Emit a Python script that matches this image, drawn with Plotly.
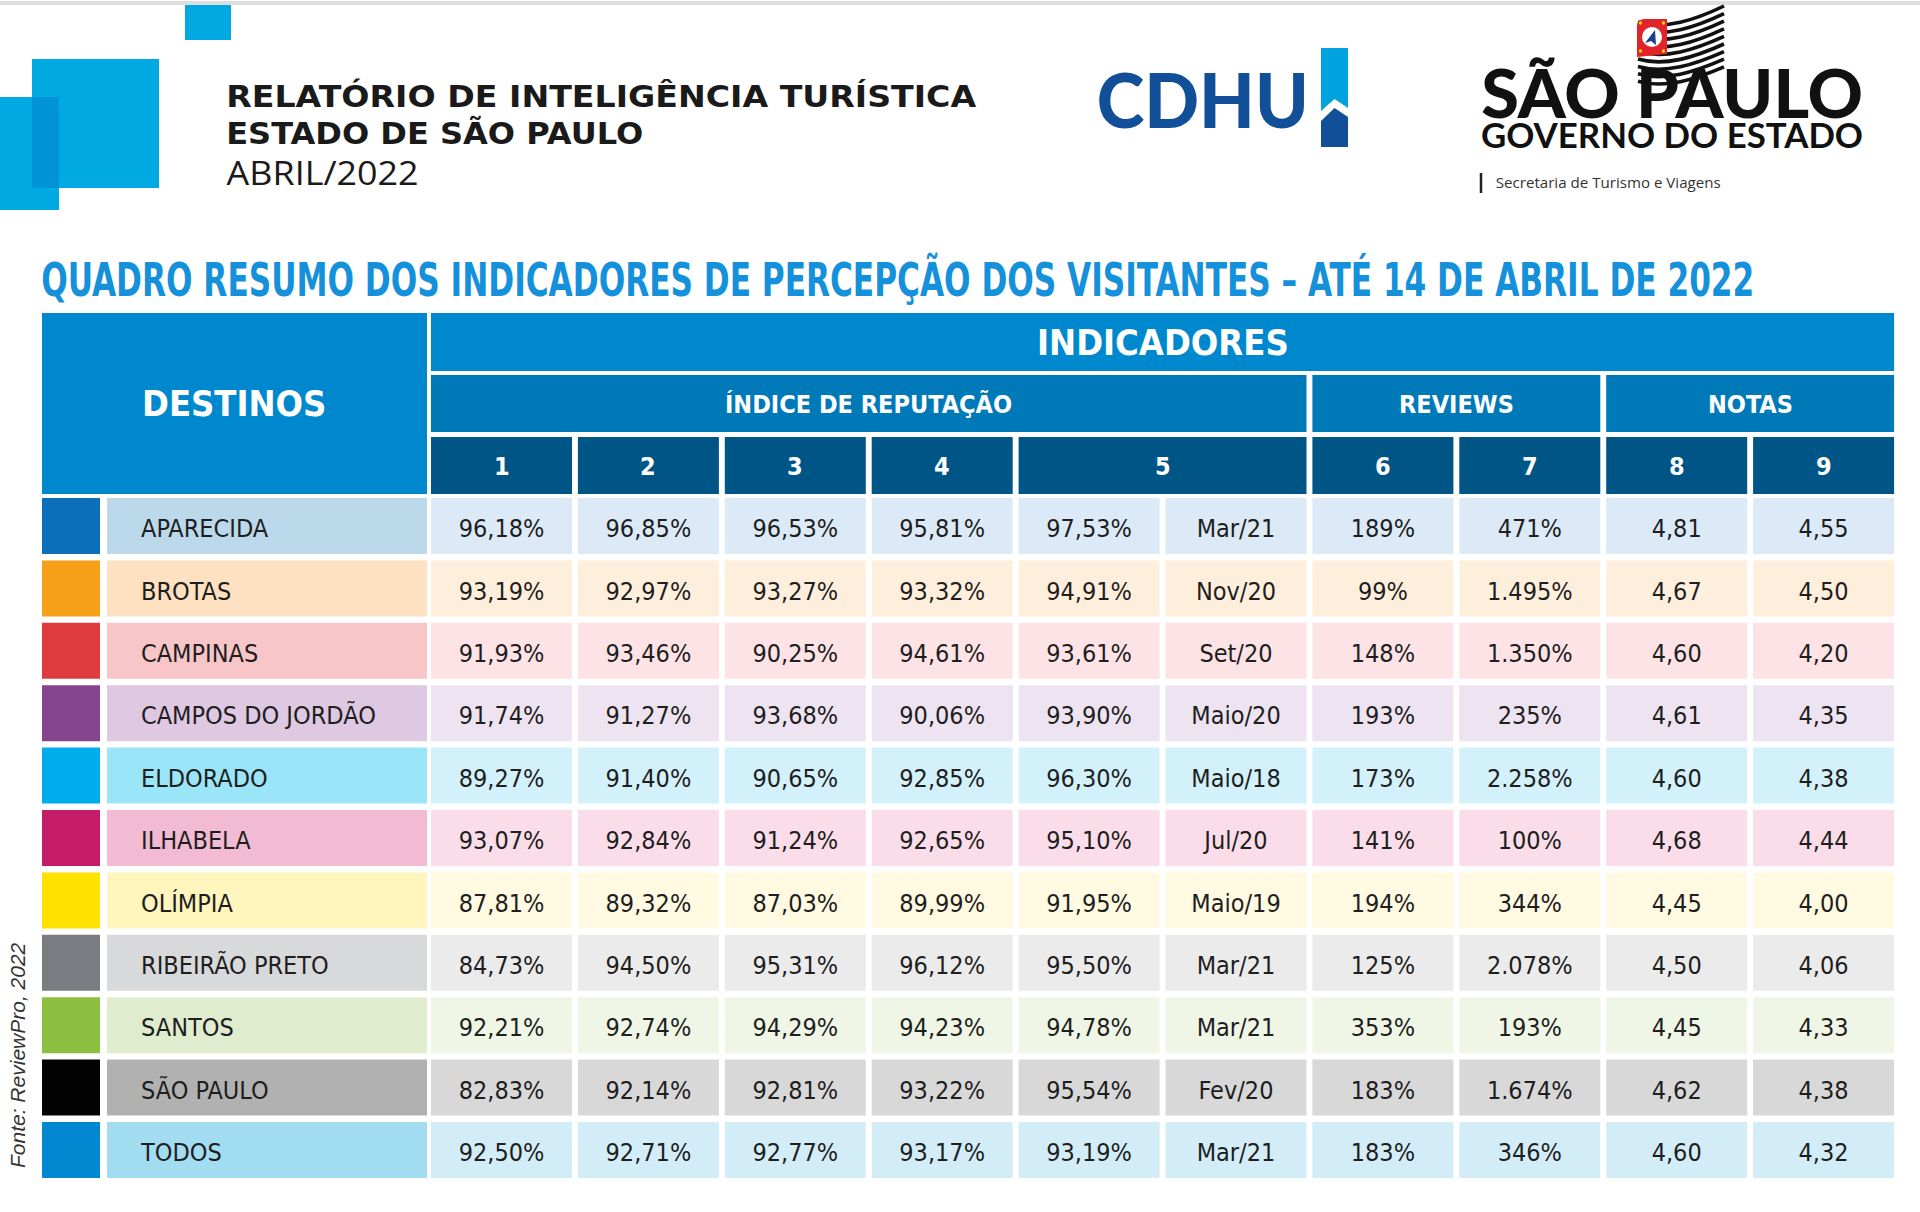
import json
import plotly.graph_objects as go

# ---- dados do quadro ----
destinos = ["APARECIDA", "BROTAS", "CAMPINAS", "CAMPOS DO JORDÃO", "ELDORADO", "ILHABELA",
            "OLÍMPIA", "RIBEIRÃO PRETO", "SANTOS", "SÃO PAULO", "TODOS"]
ind1 = [96.18, 93.19, 91.93, 91.74, 89.27, 93.07, 87.81, 84.73, 92.21, 82.83, 92.50]
ind2 = [96.85, 92.97, 93.46, 91.27, 91.40, 92.84, 89.32, 94.50, 92.74, 92.14, 92.71]
ind3 = [96.53, 93.27, 90.25, 93.68, 90.65, 91.24, 87.03, 95.31, 94.29, 92.81, 92.77]
ind4 = [95.81, 93.32, 94.61, 90.06, 92.85, 92.65, 89.99, 96.12, 94.23, 93.22, 93.17]
ind5 = [97.53, 94.91, 93.61, 93.90, 96.30, 95.10, 91.95, 95.50, 94.78, 95.54, 93.19]
ind5_mes = ["Mar/21", "Nov/20", "Set/20", "Maio/20", "Maio/18", "Jul/20", "Maio/19",
            "Mar/21", "Mar/21", "Fev/20", "Mar/21"]
reviews6 = [189, 99, 148, 193, 173, 141, 194, 125, 353, 183, 183]
reviews7 = [471, 1495, 1350, 235, 2258, 100, 344, 2078, 193, 1674, 346]
notas8 = [4.81, 4.67, 4.60, 4.61, 4.60, 4.68, 4.45, 4.50, 4.45, 4.62, 4.60]
notas9 = [4.55, 4.50, 4.20, 4.35, 4.38, 4.44, 4.00, 4.06, 4.33, 4.38, 4.32]
num_colunas = ["1", "2", "3", "4", "5", "6", "7", "8", "9"]

# ---- cores por linha ----
cor_marca = ["#0b70b9", "#f6a01a", "#de3b3f", "#86468f", "#00adec", "#c41c66",
             "#ffe200", "#797c80", "#8dc041", "#020202", "#0288d1"]
cor_nome = ["#bcd8eb", "#fde1c0", "#f8c5c8", "#dfc8e2", "#9ae6f8", "#f3bad3",
            "#fff5bd", "#d8d9da", "#e0ecce", "#b2b1b1", "#a2dcf1"]
cor_dado = ["#dbeaf6", "#feefdc", "#fde3e5", "#eee3f0", "#d2f1fa", "#fadde8",
            "#fffae1", "#ebebeb", "#eff6e6", "#d8d8d8", "#d2edf8"]

TITULO = "QUADRO RESUMO DOS INDICADORES DE PERCEPÇÃO DOS VISITANTES – ATÉ 14 DE ABRIL DE 2022"


def pct(v):
    return f"{v:.2f}".replace(".", ",") + "%"


def milhar(v):
    return f"{v:,}".replace(",", ".") + "%"


def nota(v):
    return f"{v:.2f}".replace(".", ",")


NARROW = "DejaVu Sans Condensed, Liberation Sans Narrow, sans-serif"
OPEN = "Open Sans, DejaVu Sans, sans-serif"
LATO = "Lato, Inter, Open Sans, sans-serif"

# geometria (pixels da janela)
COL_X0 = 431
COL_PITCH = 146.9
COL_W = 141
ROW_Y0 = 498
ROW_PITCH = 62.4
ROW_H = 56


def col_x(k):
    return COL_X0 + COL_PITCH * k


shapes = []


def rect(x0, y0, x1, y1, color):
    shapes.append(dict(type="rect", xref="x", yref="y", x0=x0, y0=y0, x1=x1, y1=y1,
                       fillcolor=color, line=dict(width=0), layer="below"))


# topo: linha cinza e quadrados azuis
shapes.append(dict(type="line", xref="x", yref="y", x0=0, x1=1920, y0=3, y1=3,
                   line=dict(color="#dedede", width=4)))
rect(185, 5, 231, 40, "#00a9e2")
rect(32, 59, 159, 188, "#00a9e2")
rect(0, 97, 59, 210, "#00a9e2")
rect(32, 97, 59, 188, "#0093d6")

# logo CDHU (ícone)
shapes.append(dict(type="path", xref="x", yref="y",
                   path="M 1321 48 L 1348 48 L 1348 108 L 1334.5 99 L 1321 111 Z",
                   fillcolor="#00a3e0", line=dict(width=0)))
shapes.append(dict(type="path", xref="x", yref="y",
                   path="M 1321 121 L 1334.5 108 L 1348 117 L 1348 147 L 1321 147 Z",
                   fillcolor="#124f99", line=dict(width=0)))

# bandeira de SP (listras)
for j in range(9):
    yl = 22 + 7.4 * j
    yr = 6 + 7.6 * j
    shapes.append(dict(type="path", xref="x", yref="y",
                       path=f"M 1638 {yl} C 1665 {yl + 8}, 1695 {yl - 2}, 1724 {yr}",
                       line=dict(color="#111111", width=3.6)))
shapes.append(dict(type="path", xref="x", yref="y",
                   path="M 1645 19 L 1667 19 L 1667 54 L 1637 57 L 1637 27 Q 1637 19 1645 19 Z",
                   fillcolor="#e3232b", line=dict(width=0)))
shapes.append(dict(type="circle", xref="x", yref="y", x0=1642, x1=1662, y0=27, y1=47,
                   fillcolor="#ffffff", line=dict(width=0)))
shapes.append(dict(type="path", xref="x", yref="y",
                   path="M 1655 30 L 1645 43 L 1651 41 L 1656 45 Z",
                   fillcolor="#1c3f94", line=dict(width=0)))
for cx, cy in [(1640.5, 23), (1663.5, 23), (1640.5, 51), (1663.5, 51)]:
    shapes.append(dict(type="circle", xref="x", yref="y", x0=cx - 1.7, x1=cx + 1.7,
                       y0=cy - 1.7, y1=cy + 1.7, fillcolor="#ffd200", line=dict(width=0)))
shapes.append(dict(type="line", xref="x", yref="y", x0=1481, x1=1481, y0=173, y1=193,
                   line=dict(color="#222222", width=2.5)))

# cabeçalho do quadro
H1 = (313, 371)
H2 = (375, 432)
H3 = (437, 494)
AZUL1, AZUL2, AZUL3 = "#0088cf", "#0079b9", "#005587"
rect(42, H1[0], 427, H3[1], AZUL1)
rect(COL_X0, H1[0], col_x(9) + COL_W, H1[1], AZUL1)
grupos = [("ÍNDICE DE REPUTAÇÃO", 0, 5), ("REVIEWS", 6, 7), ("NOTAS", 8, 9)]
for _, a, b in grupos:
    rect(col_x(a), H2[0], col_x(b) + COL_W, H2[1], AZUL2)
spans_num = [(0, 0), (1, 1), (2, 2), (3, 3), (4, 5), (6, 6), (7, 7), (8, 8), (9, 9)]
for a, b in spans_num:
    rect(col_x(a), H3[0], col_x(b) + COL_W, H3[1], AZUL3)

# corpo do quadro
for i in range(len(destinos)):
    y0 = ROW_Y0 + ROW_PITCH * i
    y1 = y0 + ROW_H
    rect(42, y0, 100, y1, cor_marca[i])
    rect(107, y0, 427, y1, cor_nome[i])
    for k in range(10):
        rect(col_x(k), y0, col_x(k) + COL_W, y1, cor_dado[i])

fig = go.Figure()

row_y = [ROW_Y0 + ROW_PITCH * i + ROW_H / 2 + 5 for i in range(len(destinos))]
fig.add_trace(go.Scatter(x=[141] * len(destinos), y=row_y, text=destinos, mode="text",
                         textposition="middle right", cliponaxis=False, hoverinfo="skip",
                         textfont=dict(family=NARROW, size=25, color="#1e1e1e")))

colunas = [
    [pct(v) for v in ind1],
    [pct(v) for v in ind2],
    [pct(v) for v in ind3],
    [pct(v) for v in ind4],
    [pct(v) for v in ind5],
    ind5_mes,
    [milhar(v) for v in reviews6],
    [milhar(v) for v in reviews7],
    [nota(v) for v in notas8],
    [nota(v) for v in notas9],
]
for k, textos in enumerate(colunas):
    fig.add_trace(go.Scatter(x=[col_x(k) + COL_W / 2] * len(textos), y=row_y, text=textos,
                             mode="text", textposition="middle center", cliponaxis=False,
                             hoverinfo="skip",
                             textfont=dict(family=NARROW, size=25, color="#1e1e1e")))

annotations = []


def txt(x, y, s, size, color="#ffffff", family=NARROW, weight="bold", **kw):
    annotations.append(dict(x=x, y=y, xref="x", yref="y", text=s, showarrow=False,
                            xanchor="center", yanchor="middle",
                            font=dict(family=family, size=size, color=color,
                                      weight=weight, **kw)))


txt(234, 403, "DESTINOS", 36)
txt((COL_X0 + col_x(9) + COL_W) / 2, 342, "INDICADORES", 36)
for nome, a, b in grupos:
    txt((col_x(a) + col_x(b) + COL_W) / 2, 404, nome, 25)
for (a, b), n in zip(spans_num, num_colunas):
    txt((col_x(a) + col_x(b) + COL_W) / 2, 466, n, 25)

# textos do topo: (texto, largura no original)
larguras = {
    "RELATÓRIO DE INTELIGÊNCIA TURÍSTICA": 750,
    "ESTADO DE SÃO PAULO": 417,
    "ABRIL/2022": 192,
    "CDHU": 212,
    "SÃO PAULO": 382,
    "GOVERNO DO ESTADO": 382,
    "Secretaria de Turismo e Viagens": 225,
    TITULO: 1713,
}
txt(601, 96, "RELATÓRIO DE INTELIGÊNCIA TURÍSTICA", 31, "#1a1a1a", "DejaVu Sans")
txt(434.5, 133, "ESTADO DE SÃO PAULO", 31, "#1a1a1a", "DejaVu Sans")
txt(322, 172, "ABRIL/2022", 32, "#1a1a1a", OPEN, "normal")
txt(1202, 98, "CDHU", 76, "#124f99", LATO, 900)
txt(1672, 92, "SÃO PAULO", 66, "#111111", LATO, 900)
txt(1672, 134, "GOVERNO DO ESTADO", 35, "#111111", LATO, 700)
txt(1608, 182, "Secretaria de Turismo e Viagens", 14, "#333333", OPEN, "normal")
txt(897.5, 279, TITULO, 46, "#1590da", NARROW)
annotations.append(dict(x=17, y=1055, xref="x", yref="y", text="Fonte: ReviewPro, 2022",
                        showarrow=False, textangle=-90, xanchor="center", yanchor="middle",
                        font=dict(family="Liberation Sans, Arial, sans-serif", size=21,
                                  color="#333333", style="italic")))

fig.update_layout(
    width=1920,
    height=1212,
    margin=dict(l=0, r=0, t=0, b=0),
    paper_bgcolor="#ffffff",
    plot_bgcolor="#ffffff",
    showlegend=False,
    xaxis=dict(range=[0, 1920], visible=False, fixedrange=True),
    yaxis=dict(range=[1212, 0], visible=False, fixedrange=True),
    shapes=shapes,
    annotations=annotations,
)

# tira a margem da página e ajusta a largura dos textos do topo
ajuste = """
document.body.style.margin = '0';
document.body.style.overflow = 'hidden';
var L = %s;
document.querySelectorAll('text.annotation-text').forEach(function (t) {
    var w = L[t.textContent];
    if (w) {
        t.setAttribute('textLength', w);
        t.setAttribute('lengthAdjust', 'spacingAndGlyphs');
    }
});
""" % json.dumps(larguras)

fig.write_html("out.html", config={"displayModeBar": False}, post_script=ajuste)
